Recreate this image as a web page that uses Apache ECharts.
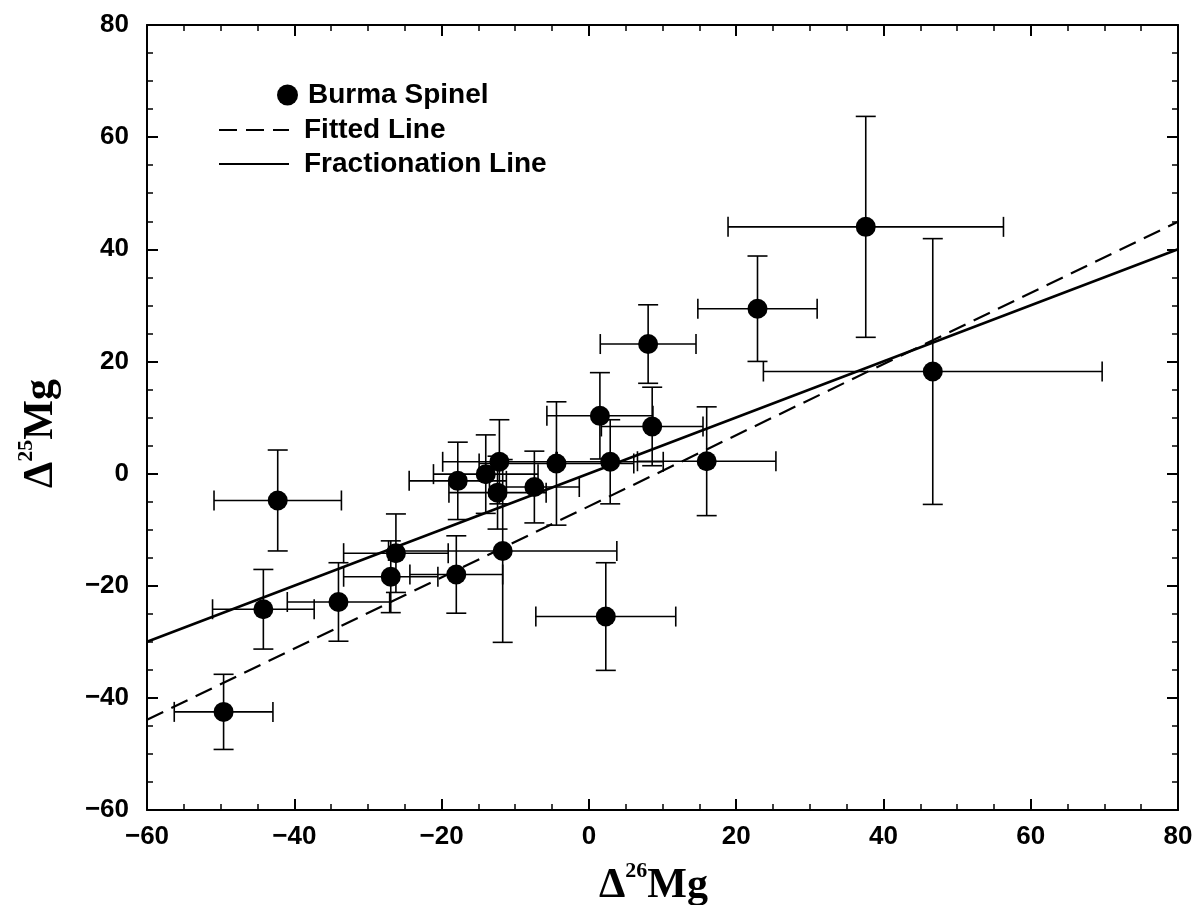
<!DOCTYPE html>
<html>
<head>
<meta charset="utf-8">
<script src="https://cdn.jsdelivr.net/npm/echarts@6/dist/echarts.min.js"></script>
<style>
html,body{margin:0;padding:0;background:#fff;}
#chart{width:1200px;height:905px;}
</style>
</head>
<body>
<div id="chart"></div>
<script>
// Δ26Mg values of the Burma Spinel measurements
const d26 = [-49.6, -44.2, -42.25, -34.0, -26.9, -26.2, -18.0, -17.8, -14.0, -11.7, -12.15, -12.4, -7.4, -4.4, 1.5, 2.9, 2.3, 8.05, 8.6, 16.0, 22.9, 37.6, 46.7];
// Δ25Mg values
const d25 = [-42.5, -24.2, -4.8, -22.9, -18.4, -14.2, -18.0, -1.3, -0.1, -13.8, 2.1, -3.4, -2.4, 1.8, 10.3, 2.1, -25.5, 23.1, 8.4, 2.2, 29.4, 44.0, 18.2];
// horizontal (Δ26Mg) error half-widths
const err26 = [6.7, 6.9, 8.65, 6.95, 6.4, 7.1, 6.3, 6.6, 7.1, 15.5, 7.7, 6.6, 6.1, 10.5, 7.2, 7.2, 9.5, 6.5, 6.9, 9.4, 8.1, 18.7, 23.0];
// vertical (Δ25Mg) error half-widths
const err25 = [6.7, 7.1, 9.0, 7.0, 6.4, 7.0, 6.9, 6.9, 7.0, 16.3, 7.5, 6.5, 6.4, 11.0, 7.7, 7.5, 9.6, 7.0, 7.0, 9.7, 9.4, 19.7, 23.7];
// line end points
const fittedLine = [[-60, -43.9], [80, 44.9]];
const fractionationLine = [[-60, -30], [80, 40]];
// axis settings
const xMin = -60, xMax = 80, yMin = -60, yMax = 80, tickStep = 20;

const points = d26.map((x, i) => [x, d25[i]]);
const errData = d26.map((x, i) => [x, d25[i], err26[i], err25[i]]);

const chart = echarts.init(document.getElementById('chart'), null, {renderer: 'canvas'});
const labelFont = {fontFamily: 'Liberation Sans, Arial, sans-serif', fontWeight: 'bold', fontSize: 26, color: '#000'};
const legendFont = {fontFamily: 'Liberation Sans, Arial, sans-serif', fontWeight: 'bold', fontSize: 28, color: '#000'};
const fmt = v => String(v).replace('-', '\u2212');

function axisCommon(extra) {
  return Object.assign({
    type: 'value',
    interval: tickStep,
    axisLine: {show: true, onZero: false, lineStyle: {color: '#000', width: 2}},
    axisTick: {show: true, inside: true, length: 11, lineStyle: {color: '#000', width: 2}},
    minorTick: {show: true, splitNumber: 4, length: 6, lineStyle: {color: '#000', width: 1.5}},
    splitLine: {show: false},
    minorSplitLine: {show: false}
  }, extra);
}

function errorBars(params, api) {
  const x = api.value(0), y = api.value(1), ex = api.value(2), ey = api.value(3);
  const l = api.coord([x - ex, y]), r = api.coord([x + ex, y]);
  const t = api.coord([x, y + ey]), b = api.coord([x, y - ey]);
  const h = 10;
  const st = {stroke: '#000', lineWidth: 1.6};
  const seg = (x1, y1, x2, y2) => ({type: 'line', shape: {x1, y1, x2, y2}, style: st});
  return {
    type: 'group',
    children: [
      seg(l[0], l[1], r[0], r[1]),
      seg(t[0], t[1], b[0], b[1]),
      seg(l[0], l[1] - h, l[0], l[1] + h),
      seg(r[0], r[1] - h, r[0], r[1] + h),
      seg(t[0] - h, t[1], t[0] + h, t[1]),
      seg(b[0] - h, b[1], b[0] + h, b[1])
    ]
  };
}

const serif = 'Liberation Serif, Times New Roman, serif';
const nameRichX = {
  d: {fontFamily: serif, fontWeight: 'bold', fontSize: 42, color: '#000', verticalAlign: 'bottom'},
  s: {fontFamily: serif, fontWeight: 'bold', fontSize: 22, color: '#000', verticalAlign: 'bottom', padding: [0, 0, 25, 0]},
  m: {fontFamily: serif, fontWeight: 'bold', fontSize: 42, color: '#000', verticalAlign: 'bottom', padding: [0, 18, 0, 0]}
};
const nameRichY = {
  d: nameRichX.d,
  s: nameRichX.s,
  m: Object.assign({}, nameRichX.m, {padding: [0, 32, 0, 0]})
};

const option = {
  animation: false,
  backgroundColor: '#fff',
  grid: {left: 147, right: 22, top: 25, bottom: 95, containLabel: false, outerBoundsMode: 'none'},
  xAxis: [
    axisCommon({
      min: xMin, max: xMax, position: 'bottom',
      axisLabel: Object.assign({margin: 14, formatter: fmt}, labelFont),
      name: '{d|Δ}{s|26}{m|Mg}',
      nameLocation: 'middle',
      nameGap: 50,
      nameMoveOverlap: false,
      nameTextStyle: {rich: nameRichX}
    }),
    axisCommon({min: xMin, max: xMax, position: 'top', axisLabel: {show: false}})
  ],
  yAxis: [
    axisCommon({
      min: yMin, max: yMax, position: 'left',
      axisLabel: Object.assign({margin: 18, formatter: fmt}, labelFont),
      name: '{d|Δ}{s|25}{m|Mg}',
      nameLocation: 'middle',
      nameGap: 85,
      nameMoveOverlap: false,
      nameTextStyle: {rich: nameRichY}
    }),
    axisCommon({min: yMin, max: yMax, position: 'right', axisLabel: {show: false}})
  ],
  legend: [
    {
      data: [{name: 'Burma Spinel', icon: 'circle'}],
      left: 272, top: 76,
      itemWidth: 21, itemHeight: 21, itemGap: 0,
      textStyle: Object.assign({padding: [0, 0, 0, 5]}, legendFont),
      selectedMode: false
    },
    {
      data: [
        {name: 'Fitted Line', itemStyle: {opacity: 0}},
        {name: 'Fractionation Line', itemStyle: {opacity: 0}}
      ],
      orient: 'vertical',
      left: 213, top: 111,
      itemWidth: 70, itemHeight: 14, itemGap: 6,
      textStyle: Object.assign({padding: [0, 0, 0, 10]}, legendFont),
      selectedMode: false
    }
  ],
  series: [
    {
      name: 'Error bars',
      type: 'custom',
      renderItem: errorBars,
      data: errData,
      encode: {x: 0, y: 1},
      z: 2,
      silent: true
    },
    {
      name: 'Fitted Line',
      type: 'line',
      data: fittedLine,
      symbol: 'none',
      lineStyle: {color: '#000', width: 2.2, type: [18, 9]},
      itemStyle: {color: '#000'},
      z: 3
    },
    {
      name: 'Fractionation Line',
      type: 'line',
      data: fractionationLine,
      symbol: 'none',
      lineStyle: {color: '#000', width: 2.6, type: 'solid'},
      itemStyle: {color: '#000'},
      z: 3
    },
    {
      name: 'Burma Spinel',
      type: 'scatter',
      data: points,
      symbol: 'circle',
      symbolSize: 20,
      itemStyle: {color: '#000', opacity: 1},
      z: 4
    }
  ]
};
chart.setOption(option);
</script>
</body>
</html>
